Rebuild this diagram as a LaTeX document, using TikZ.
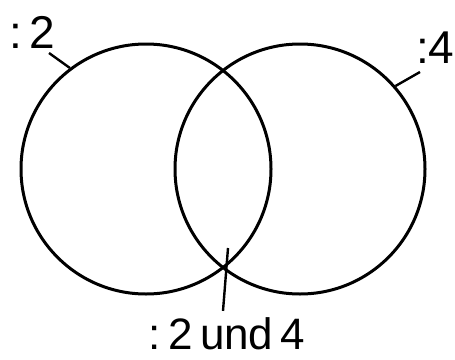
\documentclass[tikz,border=0pt]{standalone}
\usepackage{fontspec}
\setsansfont{Liberation Sans}
\usetikzlibrary{positioning, calc}

\begin{document}
\begin{tikzpicture}[
      x=1pt, y=-1pt,
      font=\sffamily,
      menge/.style={circle, draw=black, line width=3pt, minimum size=250pt, inner sep=0pt},
      beschrift/.style={inner sep=0pt, anchor=base west, font=\fontsize{46}{50}\selectfont\sffamily},
      strich/.style={line width=2.4pt}
  ]
  \useasboundingbox (0,0) rectangle (455,359);

  \node[menge] (zwei) at (146,169) {};
  \node[menge] (vier) at (300,169) {};

  \node[beschrift] (lzwei) at (9,48)   {:\,2};
  \node[beschrift] (lvier) at (416,63) {:4};
  \node[beschrift, anchor=base, font=\fontsize{44}{50}\selectfont\sffamily]
       (lbeide) at (227,349) {:\,2\,und\,4};

  % Zuordnungsstriche
  \coordinate (azwei) at (49,53);
  \coordinate (avier) at (420,72);
  \coordinate (abeide) at (228,248);
  \draw[strich] (azwei) -- (zwei.127);
  \draw[strich] (avier) -- (vier.41);
  \draw[strich] (abeide) -- ($(lbeide.north)+(-4,-6)$);
\end{tikzpicture}
\end{document}
